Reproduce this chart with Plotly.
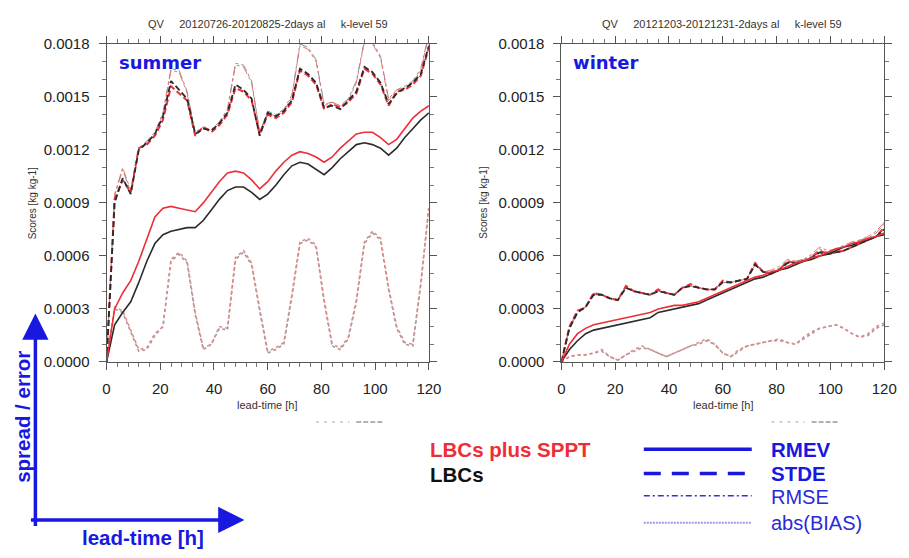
import plotly.graph_objects as go

W, H = 909, 558

# ---------------- data ----------------
hours = list(range(0, 121, 3))

# summer (20120726-20120825)
sum_rmev_sppt = [0, 0.00030, 0.00039, 0.00046, 0.00057, 0.00070, 0.00082, 0.00087, 0.00088, 0.00087,
                 0.00086, 0.00085, 0.00090, 0.00096, 0.00102, 0.00107, 0.00108, 0.00107, 0.00103, 0.00098,
                 0.00102, 0.00108, 0.00113, 0.00117, 0.00119, 0.00118, 0.00116, 0.00113, 0.00116, 0.00121,
                 0.00125, 0.00129, 0.00130, 0.00130, 0.00127, 0.00123, 0.00126, 0.00132, 0.00138, 0.00142, 0.00145]
sum_rmev_lbc = [0, 0.00021, 0.00028, 0.00034, 0.00045, 0.00057, 0.00067, 0.00072, 0.00074, 0.00075,
                0.00076, 0.00076, 0.00080, 0.00086, 0.00092, 0.00097, 0.00099, 0.00099, 0.00096, 0.00092,
                0.00095, 0.00100, 0.00106, 0.00111, 0.00113, 0.00112, 0.00109, 0.00106, 0.00110, 0.00115,
                0.00119, 0.00123, 0.00124, 0.00123, 0.00121, 0.00117, 0.00121, 0.00127, 0.00132, 0.00137, 0.00141]
sum_stde_sppt = [0, 0.00092, 0.00103, 0.00096, 0.00121, 0.00123, 0.00128, 0.00137, 0.00156, 0.00152,
                 0.00148, 0.00128, 0.00133, 0.00130, 0.00134, 0.00140, 0.00155, 0.00153, 0.00148, 0.00129,
                 0.00140, 0.00138, 0.00141, 0.00147, 0.00165, 0.00162, 0.00157, 0.00143, 0.00146, 0.00144,
                 0.00147, 0.00152, 0.00166, 0.00163, 0.00157, 0.00145, 0.00153, 0.00154, 0.00157, 0.00162, 0.00178]
sum_stde_lbc = [0, 0.00090, 0.00104, 0.00095, 0.00120, 0.00124, 0.00129, 0.00139, 0.00159, 0.00154,
                0.00149, 0.00129, 0.00132, 0.00131, 0.00135, 0.00141, 0.00157, 0.00154, 0.00149, 0.00128,
                0.00141, 0.00139, 0.00142, 0.00148, 0.00166, 0.00163, 0.00158, 0.00144, 0.00145, 0.00143,
                0.00148, 0.00153, 0.00167, 0.00164, 0.00158, 0.00146, 0.00152, 0.00155, 0.00158, 0.00163, 0.00179]
sum_rmse_sppt = [0, 0.00095, 0.00110, 0.00097, 0.00121, 0.00124, 0.00129, 0.00140, 0.00165, 0.00164,
                 0.00152, 0.00129, 0.00133, 0.00131, 0.00135, 0.00142, 0.00168, 0.00167, 0.00158, 0.00130,
                 0.00141, 0.00139, 0.00142, 0.00150, 0.00179, 0.00177, 0.00170, 0.00145, 0.00147, 0.00145,
                 0.00148, 0.00158, 0.00181, 0.00180, 0.00172, 0.00148, 0.00154, 0.00155, 0.00158, 0.00165, 0.00185]
sum_rmse_lbc = [0, 0.00094, 0.00109, 0.00096, 0.00121, 0.00125, 0.00130, 0.00141, 0.00166, 0.00165,
                0.00153, 0.00130, 0.00133, 0.00131, 0.00136, 0.00143, 0.00169, 0.00168, 0.00159, 0.00130,
                0.00142, 0.00140, 0.00143, 0.00151, 0.00180, 0.00178, 0.00171, 0.00146, 0.00147, 0.00145,
                0.00149, 0.00159, 0.00182, 0.00181, 0.00173, 0.00149, 0.00154, 0.00156, 0.00159, 0.00166, 0.00186]
sum_bias_sppt = [0, 0.00031, 0.00029, 0.00018, 0.00007, 0.00008, 0.00016, 0.00020, 0.00058, 0.00062,
                 0.00057, 0.00028, 0.00008, 0.00010, 0.00020, 0.00019, 0.00059, 0.00063, 0.00056, 0.00030,
                 0.00006, 0.00008, 0.00011, 0.00038, 0.00068, 0.00070, 0.00066, 0.00035, 0.00010, 0.00008,
                 0.00014, 0.00035, 0.00068, 0.00074, 0.00070, 0.00042, 0.00020, 0.00011, 0.00010, 0.00045, 0.00088]
sum_bias_lbc = [0, 0.00030, 0.00028, 0.00017, 0.00006, 0.00007, 0.00015, 0.00020, 0.00057, 0.00061,
                0.00056, 0.00027, 0.00007, 0.00010, 0.00019, 0.00018, 0.00058, 0.00062, 0.00055, 0.00029,
                0.00005, 0.00007, 0.00010, 0.00037, 0.00067, 0.00069, 0.00065, 0.00034, 0.00009, 0.00007,
                0.00013, 0.00034, 0.00067, 0.00073, 0.00069, 0.00041, 0.00019, 0.00010, 0.00009, 0.00044, 0.00087]

# winter (20121203-20121231)
win_rmev_sppt = [0, 0.00010, 0.00016, 0.00019, 0.00021, 0.00022, 0.00023, 0.00024, 0.00025, 0.00026,
                 0.00027, 0.00028, 0.00030, 0.00031, 0.00032, 0.00032, 0.00033, 0.00034, 0.00036, 0.00038,
                 0.00040, 0.00042, 0.00044, 0.00046, 0.00048, 0.00049, 0.00051, 0.00052, 0.00054, 0.00056,
                 0.00057, 0.00059, 0.00060, 0.00062, 0.00064, 0.00065, 0.00067, 0.00068, 0.00070, 0.00071, 0.00073]
win_rmev_lbc = [0, 0.00007, 0.00012, 0.00016, 0.00018, 0.00019, 0.00020, 0.00021, 0.00022, 0.00023,
                0.00024, 0.00025, 0.00028, 0.00029, 0.00030, 0.00031, 0.00032, 0.00033, 0.00035, 0.00037,
                0.00039, 0.00041, 0.00043, 0.00045, 0.00047, 0.00048, 0.00050, 0.00052, 0.00053, 0.00055,
                0.00057, 0.00058, 0.00060, 0.00061, 0.00063, 0.00065, 0.00066, 0.00068, 0.00069, 0.00071, 0.00072]
win_stde_sppt = [0, 0.00020, 0.00029, 0.00031, 0.00039, 0.00038, 0.00036, 0.00035, 0.00043, 0.00040,
                 0.00039, 0.00038, 0.00041, 0.00039, 0.00038, 0.00042, 0.00044, 0.00042, 0.00041, 0.00041,
                 0.00046, 0.00045, 0.00046, 0.00047, 0.00056, 0.00051, 0.00050, 0.00052, 0.00057, 0.00056,
                 0.00057, 0.00059, 0.00063, 0.00061, 0.00062, 0.00063, 0.00065, 0.00067, 0.00069, 0.00071, 0.00076]
win_stde_lbc = [0, 0.00019, 0.00028, 0.00031, 0.00038, 0.00038, 0.00036, 0.00035, 0.00042, 0.00040,
                0.00039, 0.00038, 0.00040, 0.00039, 0.00038, 0.00042, 0.00043, 0.00042, 0.00041, 0.00041,
                0.00045, 0.00045, 0.00046, 0.00047, 0.00055, 0.00051, 0.00050, 0.00052, 0.00056, 0.00056,
                0.00057, 0.00059, 0.00062, 0.00061, 0.00062, 0.00063, 0.00065, 0.00067, 0.00069, 0.00071, 0.00075]
win_rmse_sppt = [0, 0.00020, 0.00029, 0.00031, 0.00039, 0.00038, 0.00036, 0.00035, 0.00043, 0.00040,
                 0.00039, 0.00038, 0.00041, 0.00039, 0.00038, 0.00042, 0.00044, 0.00042, 0.00041, 0.00041,
                 0.00046, 0.00045, 0.00046, 0.00047, 0.00056, 0.00051, 0.00052, 0.00054, 0.00058, 0.00057,
                 0.00058, 0.00061, 0.00065, 0.00063, 0.00064, 0.00066, 0.00068, 0.00069, 0.00071, 0.00074, 0.00079]
win_rmse_lbc = [0, 0.00019, 0.00028, 0.00031, 0.00038, 0.00038, 0.00036, 0.00035, 0.00042, 0.00040,
                0.00039, 0.00038, 0.00040, 0.00039, 0.00038, 0.00042, 0.00043, 0.00042, 0.00041, 0.00041,
                0.00045, 0.00045, 0.00046, 0.00047, 0.00055, 0.00051, 0.00051, 0.00053, 0.00057, 0.00057,
                0.00058, 0.00060, 0.00064, 0.00062, 0.00063, 0.00065, 0.00067, 0.00069, 0.00070, 0.00073, 0.00078]
win_bias_sppt = [0, 0.00003, 0.00004, 0.00004, 0.00005, 0.00007, 0.00003, 0.00001, 0.00004, 0.00007,
                 0.00009, 0.00007, 0.00005, 0.00003, 0.00005, 0.00007, 0.00009, 0.00011, 0.00013, 0.00010,
                 0.00005, 0.00003, 0.00007, 0.00009, 0.00010, 0.00011, 0.00012, 0.00013, 0.00011, 0.00010,
                 0.00014, 0.00017, 0.00019, 0.00020, 0.00021, 0.00019, 0.00016, 0.00014, 0.00016, 0.00020, 0.00022]
win_bias_lbc = [0, 0.00003, 0.00004, 0.00004, 0.00005, 0.00006, 0.00003, 0.00001, 0.00004, 0.00006,
                0.00008, 0.00007, 0.00005, 0.00003, 0.00005, 0.00007, 0.00009, 0.00010, 0.00012, 0.00010,
                0.00005, 0.00003, 0.00006, 0.00009, 0.00010, 0.00011, 0.00012, 0.00012, 0.00011, 0.00010,
                0.00013, 0.00016, 0.00019, 0.00020, 0.00021, 0.00019, 0.00016, 0.00014, 0.00015, 0.00019, 0.00021]

panel_titles = ["QV\u00a0\u00a0\u00a0\u00a0\u00a020120726-20120825-2days al\u00a0\u00a0\u00a0\u00a0\u00a0k-level 59",
                "QV\u00a0\u00a0\u00a0\u00a0\u00a020121203-20121231-2days al\u00a0\u00a0\u00a0\u00a0\u00a0k-level 59"]
season_labels = ["summer", "winter"]
y_ticks = [0.0, 0.0003, 0.0006, 0.0009, 0.0012, 0.0015, 0.0018]
x_ticks = [0, 20, 40, 60, 80, 100, 120]

# ---------------- styling ----------------
RED = "#ee2e36"
BLACK = "#2b2b2b"
BLUE = "#1818e0"
SANS = "Liberation Sans, Arial, sans-serif"

def px(x, y):
    return x / W, 1 - y / H

fig = go.Figure()

panels = [
    ("x", "y", dict(rmev=(sum_rmev_sppt, sum_rmev_lbc), stde=(sum_stde_sppt, sum_stde_lbc),
                    rmse=(sum_rmse_sppt, sum_rmse_lbc), bias=(sum_bias_sppt, sum_bias_lbc))),
    ("x2", "y2", dict(rmev=(win_rmev_sppt, win_rmev_lbc), stde=(win_stde_sppt, win_stde_lbc),
                      rmse=(win_rmse_sppt, win_rmse_lbc), bias=(win_bias_sppt, win_bias_lbc))),
]

for xa, ya, d in panels:
    def add(yv, color, width, dash):
        fig.add_trace(go.Scatter(x=hours, y=yv, mode="lines", xaxis=xa, yaxis=ya,
                                 line=dict(color=color, width=width, dash=dash),
                                 showlegend=False, hoverinfo="skip"))
    add(d["bias"][1], "#a89898", 1.6, "dot")
    add(d["bias"][0], "#e08a8a", 1.6, "dot")
    add(d["rmse"][1], "#8c8c8c", 1.0, "dashdot")
    add(d["rmse"][0], "#e87878", 1.0, "dashdot")
    add(d["stde"][0], RED, 2.0, "6px,3px")
    add(d["stde"][1], BLACK, 1.8, "6px,3px")
    add(d["rmev"][1], BLACK, 1.6, "solid")
    add(d["rmev"][0], RED, 1.6, "solid")

axis_common = dict(showgrid=False, zeroline=False, showline=True, linecolor="#555", linewidth=1,
                   mirror="ticks", ticks="outside", ticklen=7, tickwidth=1, tickcolor="#555",
                   tickfont=dict(family=SANS, size=15, color="#222"))
xcommon = dict(axis_common, range=[0, 120], tickvals=x_ticks, ticklabelstandoff=6,
               minor=dict(dtick=4, ticklen=4, tickcolor="#777", ticks="outside"))
ycommon = dict(axis_common, range=[0, 0.0018], tickvals=y_ticks, tickformat=".4f", ticklabelstandoff=6,
               minor=dict(dtick=0.0001, ticklen=4, tickcolor="#777", ticks="outside"))

y0 = 1 - 364 / H
y1 = 1 - 36 / H
fig.update_layout(
    width=W, height=H, margin=dict(l=0, r=0, t=0, b=0),
    paper_bgcolor="white", plot_bgcolor="white",
    xaxis=dict(xcommon, domain=[104.5 / W, 433 / W], anchor="y"),
    yaxis=dict(ycommon, domain=[y0, y1], anchor="x"),
    xaxis2=dict(xcommon, domain=[568 / W, 897 / W], anchor="y2"),
    yaxis2=dict(ycommon, domain=[y0, y1], anchor="x2"),
)

ann = []
def text(x, y, s, size, color, bold=False, family=SANS, angle=0, xanchor="center"):
    xx, yy = px(x, y)
    ann.append(dict(x=xx, y=yy, xref="paper", yref="paper", text=f"<b>{s}</b>" if bold else s,
                    showarrow=False, xanchor=xanchor, yanchor="middle", textangle=angle,
                    font=dict(family=family, size=size, color=color)))

# panel titles and labels
text(269, 15, panel_titles[0], 11, "#333")
text(732, 15, panel_titles[1], 11, "#333")
text(115, 55, season_labels[0], 18, BLUE, bold=True, family="DejaVu Sans", xanchor="left")
text(578, 55, season_labels[1], 18, BLUE, bold=True, family="DejaVu Sans", xanchor="left")
text(269, 408, "lead-time [h]", 11, "#333")
text(733, 408, "lead-time [h]", 11, "#333")
text(29, 200, "Scores [kg kg-1]", 10, "#333", angle=-90)
text(489, 200, "Scores [kg kg-1]", 10, "#333", angle=-90)

# legend block
text(432, 454, "LBCs plus SPPT", 20.5, RED, bold=True, xanchor="left")
text(432, 480, "LBCs", 20.5, "#111", bold=True, xanchor="left")
text(780, 454, "RMEV", 20.5, BLUE, bold=True, xanchor="left")
text(780, 479, "STDE", 20.5, BLUE, bold=True, xanchor="left")
text(780, 503, "RMSE", 20, "#2a2ad8", xanchor="left")
text(780, 530, "abs(BIAS)", 20, "#2a2ad8", xanchor="left")

# schematic axes
text(19, 421, "spread / error", 20.5, BLUE, bold=True, angle=-90)
text(142, 545, "lead-time [h]", 20.5, BLUE, bold=True)

for tip, tail in [((32, 314), (32, 528)), ((245, 527), (30, 527))]:
    tx, ty = px(*tip)
    ann.append(dict(x=tx, y=ty, xref="paper", yref="paper", text="", showarrow=True,
                    ax=tail[0] - tip[0], ay=tail[1] - tip[1], axref="pixel", ayref="pixel",
                    arrowhead=2, arrowsize=1.5, arrowwidth=3.5, arrowcolor=BLUE, standoff=0))

fig.update_layout(annotations=ann)

shapes = []
def hline(x0, x1, y, color, width, dash):
    a, b = px(x0, y)
    c, _ = px(x1, y)
    shapes.append(dict(type="line", xref="paper", yref="paper", x0=a, x1=c, y0=b, y1=b,
                       line=dict(color=color, width=width, dash=dash)))

hline(652, 762, 454, BLUE, 3.5, "solid")
hline(652, 762, 479, BLUE, 3.5, "17px,11px")
hline(652, 762, 502, "#3030d8", 1.5, "6px,3px,2px,3px")
hline(652, 762, 530, "#9a9af0", 2, "2px,1px")

# faint remnants of cropped legend
for x0 in (318, 782):
    hline(x0, x0 + 34, 426, "#aaa", 1.2, "3px,5px")
    hline(x0 + 41, x0 + 69, 426, "#999", 1.5, "5px,2px")

fig.update_layout(shapes=shapes)

fig.write_html("out.html",
               post_script="document.body.style.margin='0px';document.body.style.overflow='hidden';")
